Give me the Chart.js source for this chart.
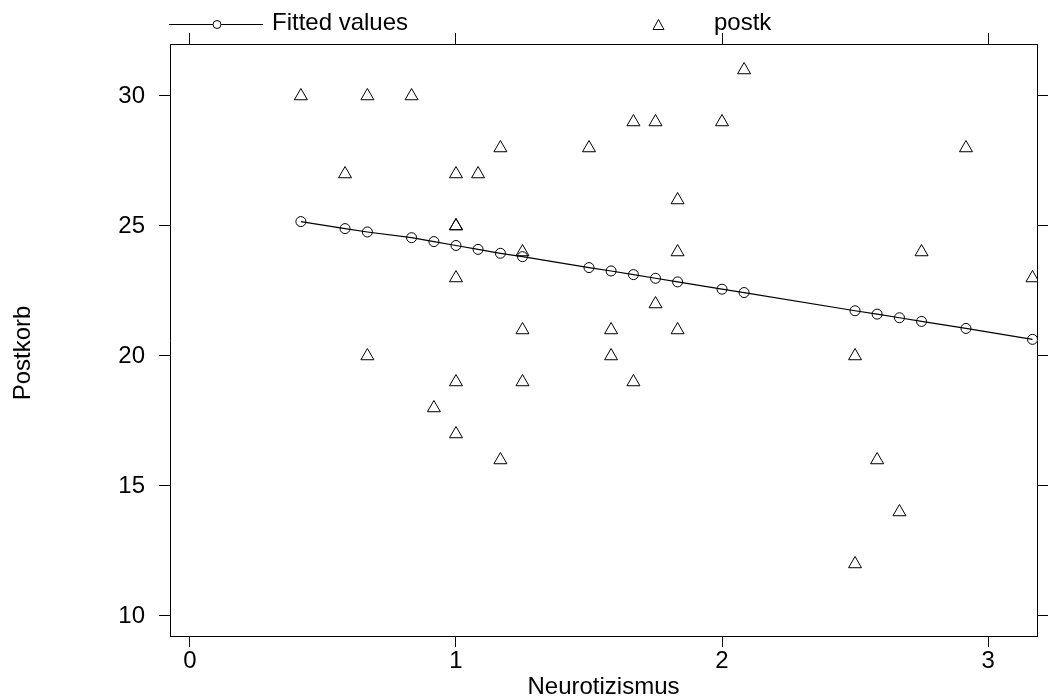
<!DOCTYPE html>
<html>
<head>
<meta charset="utf-8">
<script src="https://cdn.jsdelivr.net/npm/chart.js@4"></script>
<style>
body { margin: 0; background: #fff; }
canvas { display: block; }
</style>
</head>
<body>
<canvas id="myChart" width="1062" height="699"></canvas>
<script>
// fitted values (circles, connected)
var fittedX = [0.417, 0.583, 0.667, 0.833, 0.917, 1, 1.083, 1.167, 1.25, 1.5, 1.583,
               1.667, 1.75, 1.833, 2, 2.083, 2.5, 2.583, 2.667, 2.75, 2.917, 3.167];
var fittedY = [25.17, 24.90, 24.77, 24.55, 24.40, 24.25, 24.10, 23.95, 23.82, 23.40, 23.27,
               23.13, 22.99, 22.85, 22.57, 22.44, 21.74, 21.61, 21.47, 21.33, 21.06, 20.64];

// observed postk (triangles)
var postkX = [0.417, 0.583, 0.667, 0.667, 0.833, 0.917, 1, 1, 1, 1, 1, 1, 1.083, 1.167, 1.167,
              1.25, 1.25, 1.25, 1.5, 1.583, 1.583, 1.667, 1.667, 1.75, 1.75, 1.833, 1.833, 1.833,
              2, 2.083, 2.5, 2.5, 2.583, 2.667, 2.75, 2.917, 3.167];
var postkY = [30, 27, 30, 20, 30, 18, 27, 25, 25, 23, 19, 17, 27, 28, 16,
              24, 21, 19, 28, 21, 20, 29, 19, 29, 22, 26, 24, 21,
              29, 31, 20, 12, 16, 14, 24, 28, 23];

var xTicks = [0, 1, 2, 3];
var yTicks = [10, 15, 20, 25, 30];
var xTitle = "Neurotizismus";
var yTitle = "Postkorb";
var legendLabels = ["Fitted values", "postk"];

var fontFamily = '"Liberation Sans", Arial, Helvetica, sans-serif';
var fontSize = 24;

function toPoints(xs, ys) {
    var pts = [];
    for (var i = 0; i < xs.length; i++) {
        pts.push({ x: xs[i], y: ys[i] });
    }
    return pts;
}

function setTicks(list) {
    return function (scale) {
        scale.ticks = list.map(function (v) { return { value: v }; });
    };
}

function fixSize(size) {
    return function (scale) {
        if (scale.isHorizontal()) {
            scale.height = size;
        } else {
            scale.width = size;
        }
    };
}

var xMin = -0.075, xMax = 3.184;
var yMin = 9.23, yMax = 32.0;

var gridOpts = {
    display: true,
    drawOnChartArea: false,
    drawTicks: true,
    tickLength: 11,
    color: "#000",
    lineWidth: 1
};
var borderOpts = { display: true, color: "#000", width: 1 };

// stata style legend above the plot + y title (sits a bit below plot centre)
var textPlugin = {
    id: "stataText",
    afterDraw: function (chart) {
        var ctx = chart.ctx;
        ctx.save();
        ctx.strokeStyle = "#000";
        ctx.lineWidth = 1;
        ctx.beginPath();
        ctx.moveTo(169, 24.5);
        ctx.lineTo(263, 24.5);
        ctx.stroke();
        ctx.fillStyle = "#fff";
        ctx.beginPath();
        ctx.arc(217, 24.5, 4, 0, Math.PI * 2);
        ctx.fill();
        ctx.stroke();
        ctx.beginPath();
        ctx.moveTo(658.5, 19.5);
        ctx.lineTo(664, 29.5);
        ctx.lineTo(653, 29.5);
        ctx.closePath();
        ctx.stroke();
        ctx.fillStyle = "#000";
        ctx.font = fontSize + "px " + fontFamily;
        ctx.textBaseline = "alphabetic";
        ctx.textAlign = "left";
        ctx.fillText(legendLabels[0], 272, 30);
        ctx.fillText(legendLabels[1], 714, 30);

        ctx.translate(23, 353);
        ctx.rotate(-Math.PI / 2);
        ctx.textAlign = "center";
        ctx.textBaseline = "middle";
        ctx.fillText(yTitle, 0, 0);
        ctx.restore();
    }
};

var ctx = document.getElementById("myChart");
var myChart = new Chart(ctx, {
    type: "scatter",
    data: {
        datasets: [
            {
                label: legendLabels[0],
                data: toPoints(fittedX, fittedY),
                showLine: true,
                borderColor: "#000",
                borderWidth: 1.2,
                tension: 0,
                pointStyle: "circle",
                pointRadius: 5,
                pointBorderWidth: 1,
                pointBorderColor: "#000",
                pointBackgroundColor: "rgba(0,0,0,0)"
            },
            {
                label: legendLabels[1],
                data: toPoints(postkX, postkY),
                showLine: false,
                pointStyle: "triangle",
                pointRadius: 7.5,
                pointBorderWidth: 1,
                pointBorderColor: "#000",
                pointBackgroundColor: "rgba(0,0,0,0)"
            }
        ]
    },
    options: {
        responsive: false,
        animation: false,
        layout: { padding: 0 },
        plugins: {
            legend: { display: false },
            tooltip: { enabled: false }
        },
        scales: {
            x: {
                type: "linear",
                position: "bottom",
                min: xMin,
                max: xMax,
                afterBuildTicks: setTicks(xTicks),
                afterFit: fixSize(63),
                grid: gridOpts,
                border: borderOpts,
                ticks: { color: "#000", padding: 0, font: { family: fontFamily, size: fontSize } },
                title: {
                    display: true,
                    text: xTitle,
                    color: "#000",
                    padding: { top: 0, bottom: -3 },
                    font: { family: fontFamily, size: fontSize }
                }
            },
            x2: {
                type: "linear",
                position: "top",
                min: xMin,
                max: xMax,
                afterBuildTicks: setTicks(xTicks),
                afterFit: fixSize(44),
                grid: gridOpts,
                border: borderOpts,
                ticks: { display: false }
            },
            y: {
                type: "linear",
                position: "left",
                min: yMin,
                max: yMax,
                afterBuildTicks: setTicks(yTicks),
                afterFit: fixSize(170),
                grid: gridOpts,
                border: borderOpts,
                ticks: { color: "#000", padding: 14, font: { family: fontFamily, size: fontSize } }
            },
            y2: {
                type: "linear",
                position: "right",
                min: yMin,
                max: yMax,
                afterBuildTicks: setTicks(yTicks),
                afterFit: fixSize(25),
                grid: gridOpts,
                border: borderOpts,
                ticks: { display: false }
            }
        }
    },
    plugins: [textPlugin]
});
</script>
</body>
</html>
